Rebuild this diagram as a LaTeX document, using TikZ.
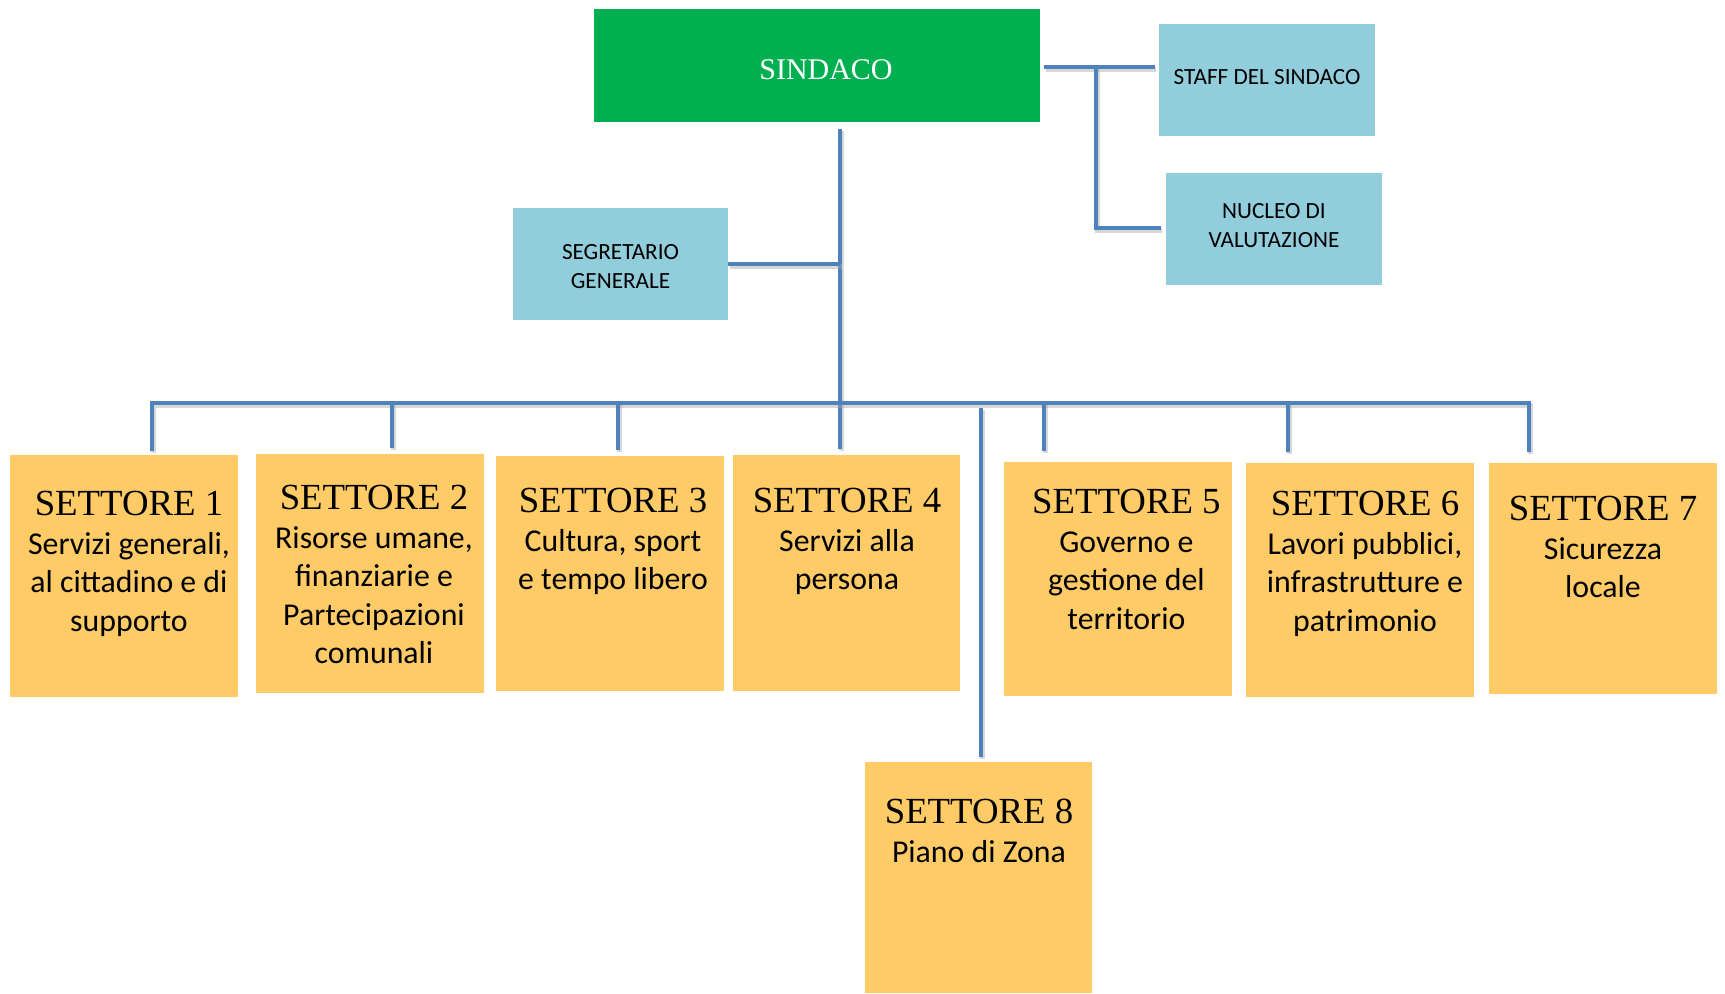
\documentclass[tikz,border=0pt]{standalone}
\usepackage{fontspec}
\setmainfont{Liberation Serif}
\newfontfamily\calfont{Carlito}
\usetikzlibrary{calc}
\definecolor{sgreen}{HTML}{00B050}
\definecolor{sblue}{HTML}{92CDDC}
\definecolor{sorange}{HTML}{FECB66}
\definecolor{sline}{HTML}{4F81BD}
\tikzset{
  conn/.style={draw=sline, line width=2.3pt,
    preaction={draw=black!35, opacity=0.45, line width=2.3pt, transform canvas={shift={(0.8pt,-1.2pt)}}}},
  greenbox/.style={fill=sgreen, draw=none, inner sep=0pt},
  bluebox/.style={fill=sblue, draw=none, inner sep=0pt},
  btext/.style={inner sep=0pt, align=center, text=black,
    font=\calfont\fontsize{11.6}{14.3}\selectfont},
  sbox/.style={fill=sorange, draw=none, inner sep=0pt},
  stext/.style={anchor=north, inner sep=0pt, align=center, text=black,
    font=\calfont\fontsize{15.9}{19.25}\selectfont},
}
\newcommand{\stitle}[1]{{\rmfamily\fontsize{18.4}{19.25}\selectfont #1}}
\begin{document}
\begin{tikzpicture}[x=0.5pt, y=-0.5pt]
\useasboundingbox (0,0) rectangle (1725,993);
% top boxes
\node[greenbox, minimum width=223pt, minimum height=56.5pt] (sindaco) at (817,65.5) {};
\node[text=white, inner sep=0pt, font=\rmfamily\fontsize{15}{18}\selectfont] (sindacotxt) at (826,70) {SINDACO};
\node[bluebox, minimum width=108pt, minimum height=56pt] (staff) at (1267,80) {};
\node[btext] (stafftxt) at (1267,77) {STAFF DEL SINDACO};
\node[bluebox, minimum width=108pt, minimum height=56pt] (nucleo) at (1274,229) {};
\node[btext] (nucleotxt) at (1274,225.5) {NUCLEO DI\\VALUTAZIONE};
\node[bluebox, minimum width=107.5pt, minimum height=56pt] (segr) at (620.5,264) {};
\node[btext] (segrtxt) at (620.5,266.5) {SEGRETARIO\\GENERALE};
% settori boxes
\node[sbox, minimum width=114pt, minimum height=121pt] (s1) at (124,576) {};
\node[sbox, minimum width=114pt, minimum height=119.5pt] (s2) at (370,573.5) {};
\node[sbox, minimum width=114pt, minimum height=117.5pt] (s3) at (610,573.5) {};
\node[sbox, minimum width=113.5pt, minimum height=118pt] (s4) at (846.5,573) {};
\node[sbox, minimum width=114pt, minimum height=117pt] (s5) at (1118,579) {};
\node[sbox, minimum width=114pt, minimum height=117pt] (s6) at (1360,580) {};
\node[sbox, minimum width=114pt, minimum height=115.5pt] (s7) at (1603,578.5) {};
\node[sbox, minimum width=113.5pt, minimum height=115.5pt] (s8) at (978.5,877.5) {};
% settori texts
\node[stext] (t1) at (129,491) {\stitle{SETTORE 1}\\Servizi generali,\\al cittadino e di\\supporto};
\node[stext] (t2) at (374,485) {\stitle{SETTORE 2}\\Risorse umane,\\finanziarie e\\Partecipazioni\\comunali};
\node[stext] (t3) at (613,488) {\stitle{SETTORE 3}\\Cultura, sport\\e tempo libero};
\node[stext] (t4) at (847,488) {\stitle{SETTORE 4}\\Servizi alla\\persona};
\node[stext] (t5) at (1126.4,489) {\stitle{SETTORE 5}\\Governo e\\gestione del\\territorio};
\node[stext] (t6) at (1365,491) {\stitle{SETTORE 6}\\Lavori pubblici,\\infrastrutture e\\patrimonio};
\node[stext] (t7) at (1603,496) {\stitle{SETTORE 7}\\Sicurezza\\locale};
\node[stext] (t8) at (979,799) {\stitle{SETTORE 8}\\Piano di Zona};
% junction coordinates
\coordinate (sr) at (1044,67);
\coordinate (sj) at (1096,67);
\coordinate (mtop) at (840,129);
\coordinate (d1) at (152,403);
\coordinate (d2) at (392,403);
\coordinate (d3) at (618,403);
\coordinate (d4) at (840,403);
\coordinate (d5) at (1044,403);
\coordinate (d6) at (1288,403);
\coordinate (d7) at (1529,403);
\coordinate (d8) at (981,408);
% connectors
\draw[conn] (sr) -- ($(staff.west |- sr)+(-4,0)$);
\draw[conn] (sj) |- ($(nucleo.west)+(-5,-1)$);
\draw[conn] (mtop) -- ($(mtop |- s4.north)+(0,-6)$);
\draw[conn] (segr.east) -- (segr.east -| mtop);
\draw[conn] ($(d1 |- s1.north)+(0,-4)$) -- (d1) -- (d7) -- ($(d7 |- s7.north)+(0,-11)$);
\draw[conn] (d2) -- ($(d2 |- s2.north)+(0,-6)$);
\draw[conn] (d3) -- ($(d3 |- s3.north)+(0,-6)$);
\draw[conn] (d5) -- ($(d5 |- s5.north)+(0,-11)$);
\draw[conn] (d6) -- ($(d6 |- s6.north)+(0,-11)$);
\draw[conn] (d8) -- ($(d8 |- s8.north)+(0,-5)$);
\end{tikzpicture}
\end{document}
